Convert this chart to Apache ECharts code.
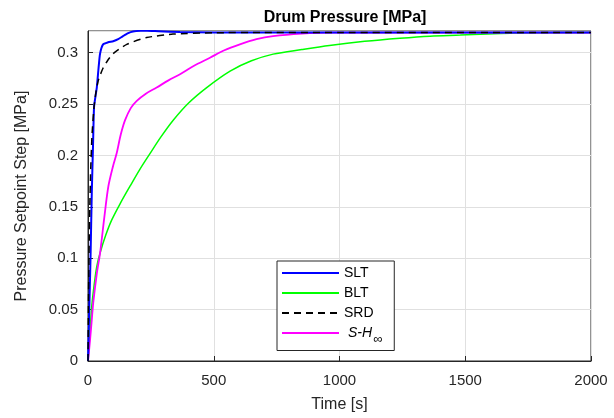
<!DOCTYPE html>
<html>
<head>
<meta charset="utf-8">
<script src="https://cdn.jsdelivr.net/npm/echarts@6/dist/echarts.min.js"></script>
<style>html,body{margin:0;padding:0;background:#fff}#c{width:614px;height:418px}</style>
</head>
<body>
<div id="c"></div>
<script>
// Time [s] and values [MPa] per series
var sltTime = [0, 3, 6, 10, 15, 20, 24, 30, 35, 42, 48, 60, 80, 100, 120, 139, 160, 179, 210, 235, 280, 366, 500, 800, 1200, 2000];
var sltVal  = [0, 0.03, 0.06, 0.10, 0.163, 0.21, 0.247, 0.258, 0.266, 0.285, 0.299, 0.308, 0.310, 0.311, 0.313, 0.316, 0.319, 0.3205, 0.3212, 0.3213, 0.3208, 0.3200, 0.3196, 0.3195, 0.3195, 0.3195];

var bltTime = [0, 5, 10, 15, 25, 35, 48, 70, 94, 130, 167, 205, 247, 290, 338, 400, 472, 565, 650, 736, 850, 960, 1100, 1240, 1360, 1480, 1640, 1800, 2000];
var bltVal  = [0, 0.018, 0.036, 0.0535, 0.075, 0.092, 0.105, 0.122, 0.137, 0.154, 0.170, 0.186, 0.202, 0.218, 0.234, 0.251, 0.266, 0.282, 0.292, 0.2985, 0.303, 0.307, 0.311, 0.314, 0.3160, 0.317, 0.3185, 0.3193, 0.3195];

var srdTime = [0, 2, 5, 10, 16, 24, 32, 41, 60, 80, 100, 154, 233, 338, 497, 700, 1000, 2000];
var srdVal  = [0, 0.06, 0.12, 0.18, 0.22, 0.247, 0.262, 0.273, 0.285, 0.293, 0.299, 0.308, 0.3146, 0.318, 0.3193, 0.3195, 0.3195, 0.3195];

var shiTime = [0, 8, 15, 21, 35, 48, 65, 81, 100, 114, 130, 147, 170, 194, 230, 273, 320, 366, 420, 485, 540, 604, 670, 736, 850, 960, 1200, 2000];
var shiVal  = [0, 0.02, 0.04, 0.057, 0.085, 0.105, 0.14, 0.17, 0.19, 0.202, 0.22, 0.234, 0.246, 0.253, 0.26, 0.266, 0.273, 0.279, 0.287, 0.295, 0.302, 0.308, 0.313, 0.316, 0.3185, 0.3195, 0.3195, 0.3195];

var xTicks = [0, 500, 1000, 1500, 2000];
var yTicks = [0, 0.05, 0.1, 0.15, 0.2, 0.25, 0.3];

function pairs(t, v) { return t.map(function (x, i) { return [x, v[i]]; }); }

var font = 'Liberation Sans, Arial, sans-serif';
var chart = echarts.init(document.getElementById('c'), null, { renderer: 'canvas' });
chart.setOption({
  animation: false,
  backgroundColor: '#fff',
  title: {
    text: 'Drum Pressure [MPa]', left: 340, top: 5, textAlign: 'center',
    textStyle: { fontFamily: font, fontWeight: 'bold', fontSize: 16, color: '#000' }
  },
  grid: { left: 88, right: 23, top: 31, bottom: 56, show: true, borderColor: '#262626', borderWidth: 1, backgroundColor: 'transparent' },
  legend: {
    left: 277, top: 261, orient: 'vertical', itemWidth: 57, itemHeight: 14, itemGap: 6,
    padding: [5, 12, 5, 4], backgroundColor: '#fff', borderColor: '#262626', borderWidth: 1,
    itemStyle: { opacity: 0 },
    textStyle: {
      fontFamily: font, fontSize: 14, color: '#000',
      rich: {
        i: { fontFamily: font, fontSize: 14, fontStyle: 'italic', color: '#000' },
        s: { fontFamily: font, fontSize: 13, fontStyle: 'italic', color: '#000', padding: [12, 0, 0, 1] }
      }
    },
    formatter: function (n) { return n === 'S-H∞' ? ' {i|S-H}{s|∞}' : n; },
    data: ['SLT', 'BLT', 'SRD', 'S-H∞']
  },
  xAxis: {
    type: 'value', min: 0, max: 2000, interval: 500,
    name: 'Time [s]', nameLocation: 'middle', nameGap: 36,
    nameTextStyle: { fontFamily: font, fontSize: 16, color: '#262626' },
    axisLine: { show: true, onZero: false, lineStyle: { color: '#262626' } },
    axisTick: { show: true, inside: true, length: 5, lineStyle: { color: '#262626' } },
    axisLabel: { fontFamily: font, fontSize: 15, color: '#262626', margin: 12, formatter: function (v) { return String(v); } },
    splitLine: { show: true, lineStyle: { color: '#e0e0e0', width: 1 } }
  },
  yAxis: {
    type: 'value', min: 0, max: 0.321, interval: 0.05,
    name: 'Pressure Setpoint Step [MPa]', nameLocation: 'middle', nameGap: 58,
    nameTextStyle: { fontFamily: font, fontSize: 16, color: '#262626' },
    axisLine: { show: true, onZero: false, lineStyle: { color: '#262626' } },
    axisTick: { show: true, inside: true, length: 5, lineStyle: { color: '#262626' } },
    axisLabel: { fontFamily: font, fontSize: 15, color: '#262626', margin: 10, showMaxLabel: false },
    splitLine: { show: true, lineStyle: { color: '#e0e0e0', width: 1 } }
  },
  series: [
    { name: 'SLT', type: 'line', symbol: 'none', smooth: 0.2, data: pairs(sltTime, sltVal),
      lineStyle: { color: '#0000ff', width: 2 }, itemStyle: { color: '#0000ff' }, z: 4 },
    { name: 'BLT', type: 'line', symbol: 'none', smooth: 0.3, data: pairs(bltTime, bltVal),
      lineStyle: { color: '#00ff00', width: 1.5 }, itemStyle: { color: '#00ff00' }, z: 2 },
    { name: 'SRD', type: 'line', symbol: 'none', smooth: 0.2, data: pairs(srdTime, srdVal),
      lineStyle: { color: '#000000', width: 1.5, type: [7, 5] }, itemStyle: { color: '#000000' }, z: 5 },
    { name: 'S-H∞', type: 'line', symbol: 'none', smooth: 0.3, data: pairs(shiTime, shiVal),
      lineStyle: { color: '#ff00ff', width: 1.8 }, itemStyle: { color: '#ff00ff' }, z: 3 }
  ]
});
</script>
</body>
</html>
